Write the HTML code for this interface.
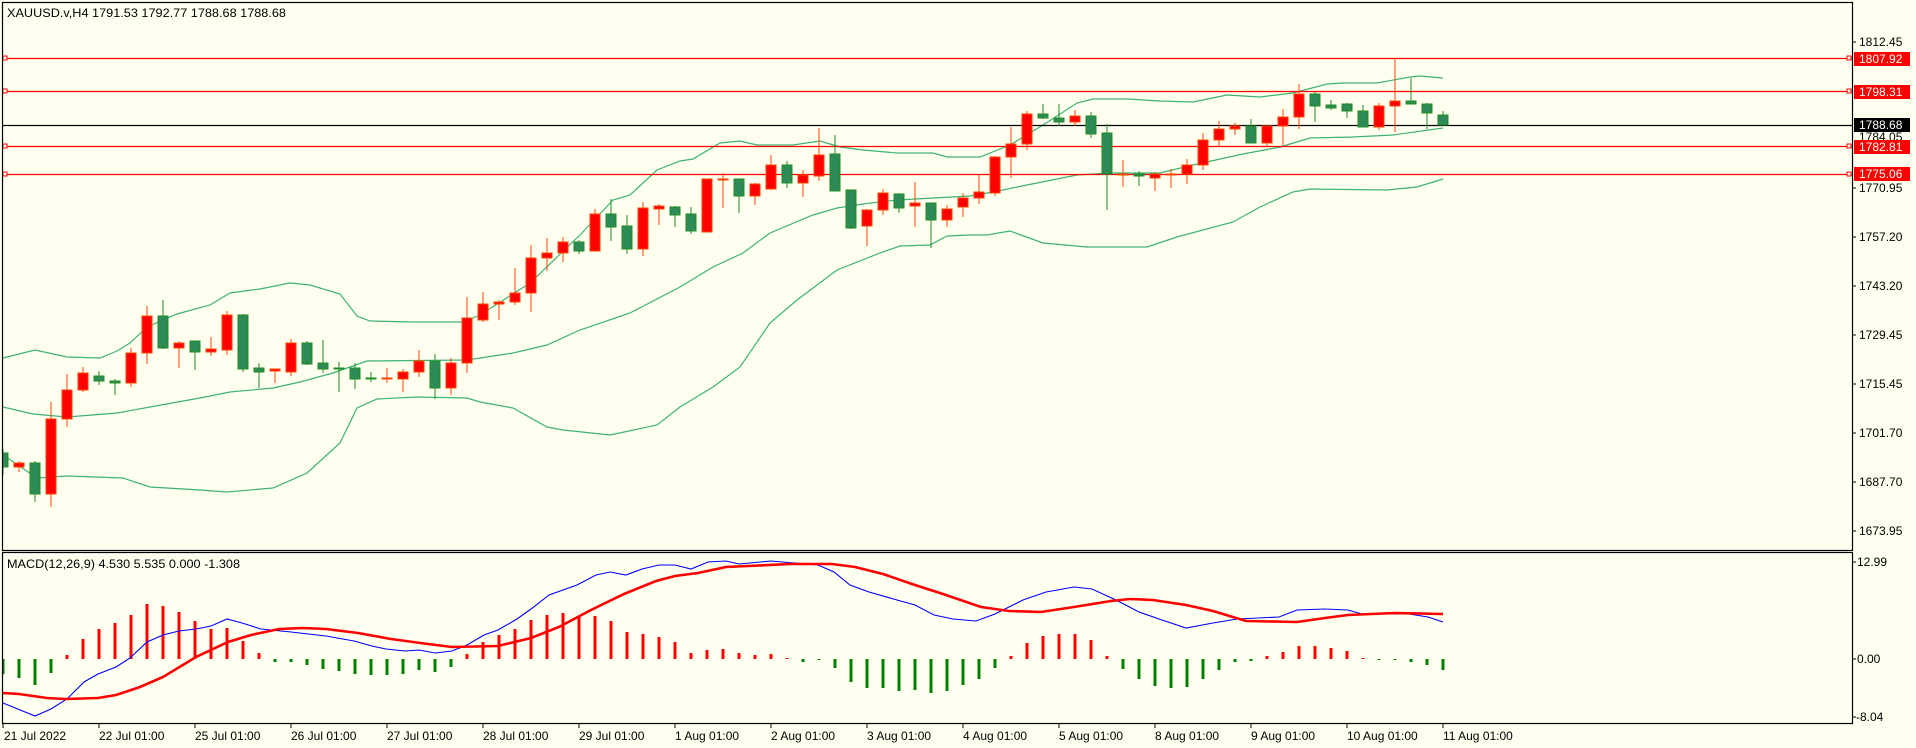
<!DOCTYPE html>
<html><head><meta charset="utf-8"><style>
html,body{margin:0;padding:0;background:#FFFFF0;}
svg{display:block;}
text{font-family:"Liberation Sans",sans-serif;font-size:12px;fill:#000;}
.r line,.r rect{stroke:#FF4500;} .r rect{fill:#FF0000;}
.g line,.g rect{stroke:#228B22;} .g rect{fill:#2E8B57;}
</style></head><body>
<svg width="1916" height="748" viewBox="0 0 1916 748" xmlns="http://www.w3.org/2000/svg">
<rect width="1916" height="748" fill="#FFFFF0"/>
<defs><clipPath id="cm"><rect x="2" y="2" width="1850" height="548"/></clipPath>
<clipPath id="cd"><rect x="2" y="552" width="1850" height="172"/></clipPath></defs>
<g clip-path="url(#cm)">
<g fill="none" stroke="#3CB371" stroke-width="1.2">
<polyline points="3,358 35,350 67,357 100,358 117,351 130,343 147,327 177,314 210,305 230,293 260,289 290,283 310,285 340,294 357,316 370,321 413,322 463,322 480,315 530,283 580,235 613,200 630,195 657,170 680,161 693,159 720,143 740,141 757,145 793,145 820,141 840,147 863,150 897,153 933,153 947,157 960,157 980,157 1010,145 1043,125 1077,103 1093,99 1127,99 1160,101 1193,102 1227,95 1260,97 1293,93 1327,84 1343,83 1377,83 1410,77 1420,76 1443,78"/>
<polyline points="3,407 33,414 67,417 117,413 150,407 200,398 230,392 273,388 300,382 333,373 367,361 467,360 480,358 513,353 547,345 580,330 630,313 680,287 713,267 743,253 770,233 813,215 837,208 863,204 897,200 970,196 993,192 1027,185 1077,175 1110,173 1160,173 1193,165 1243,154 1280,147 1310,138 1353,137 1393,135 1443,128"/>
<polyline points="3,455 37,478 67,476 123,478 150,487 200,490 227,492 273,488 307,473 340,443 357,408 377,399 417,397 467,398 480,402 513,408 547,427 563,430 610,435 657,425 680,407 713,387 740,367 770,323 797,300 837,270 880,253 900,246 930,245 947,236 970,235 987,235 1010,231 1043,243 1087,247 1147,247 1177,237 1233,222 1260,207 1293,192 1310,189 1387,190 1417,187 1443,179"/>
</g>
<g stroke="#FF0000" stroke-width="1.3">
<line x1="2" x2="1852" y1="58.5" y2="58.5"/><line x1="2" x2="1852" y1="91.5" y2="91.5"/>
<line x1="2" x2="1852" y1="146.5" y2="146.5"/><line x1="2" x2="1852" y1="174.5" y2="174.5"/>
</g>
<line x1="2" x2="1852" y1="125.5" y2="125.5" stroke="#000" stroke-width="1.3"/>
<g fill="#FFFFF0" stroke="#FF0000" stroke-width="1">
<rect x="3" y="56" width="4" height="4"/><rect x="3" y="89" width="4" height="4"/><rect x="3" y="144" width="4" height="4"/><rect x="3" y="172" width="4" height="4"/>
<rect x="1847" y="56" width="4" height="4"/><rect x="1847" y="89" width="4" height="4"/><rect x="1847" y="144" width="4" height="4"/><rect x="1847" y="172" width="4" height="4"/>
</g>
<g class="g"><line x1="3" x2="3" y1="449" y2="475"/><rect x="-2" y="453" width="10" height="14"/></g>
<g class="r"><line x1="19" x2="19" y1="461" y2="472"/><rect x="14" y="463" width="10" height="4"/></g>
<g class="g"><line x1="35" x2="35" y1="461" y2="502"/><rect x="30" y="463" width="10" height="31"/></g>
<g class="r"><line x1="51" x2="51" y1="402" y2="507"/><rect x="46" y="419" width="10" height="75"/></g>
<g class="r"><line x1="67" x2="67" y1="374" y2="427"/><rect x="62" y="390" width="10" height="29"/></g>
<g class="r"><line x1="83" x2="83" y1="367" y2="392"/><rect x="78" y="373" width="10" height="17"/></g>
<g class="g"><line x1="99" x2="99" y1="371" y2="385"/><rect x="94" y="376" width="10" height="5"/></g>
<g class="g"><line x1="115" x2="115" y1="379" y2="395"/><rect x="110" y="381" width="10" height="2"/></g>
<g class="r"><line x1="131" x2="131" y1="348" y2="387"/><rect x="126" y="353" width="10" height="30"/></g>
<g class="r"><line x1="147" x2="147" y1="306" y2="364"/><rect x="142" y="316" width="10" height="37"/></g>
<g class="g"><line x1="163" x2="163" y1="300" y2="349"/><rect x="158" y="316" width="10" height="32"/></g>
<g class="r"><line x1="179" x2="179" y1="341" y2="368"/><rect x="174" y="343" width="10" height="5"/></g>
<g class="g"><line x1="195" x2="195" y1="341" y2="370"/><rect x="190" y="341" width="10" height="11"/></g>
<g class="r"><line x1="211" x2="211" y1="337" y2="356"/><rect x="206" y="349" width="10" height="3"/></g>
<g class="r"><line x1="227" x2="227" y1="311" y2="355"/><rect x="222" y="315" width="10" height="35"/></g>
<g class="g"><line x1="243" x2="243" y1="314" y2="372"/><rect x="238" y="315" width="10" height="54"/></g>
<g class="g"><line x1="259" x2="259" y1="363" y2="388"/><rect x="254" y="368" width="10" height="4"/></g>
<g class="r"><line x1="275" x2="275" y1="369" y2="383"/><rect x="270" y="369" width="10" height="2"/></g>
<g class="r"><line x1="291" x2="291" y1="339" y2="376"/><rect x="286" y="343" width="10" height="29"/></g>
<g class="g"><line x1="307" x2="307" y1="341" y2="365"/><rect x="302" y="343" width="10" height="21"/></g>
<g class="g"><line x1="323" x2="323" y1="340" y2="373"/><rect x="318" y="363" width="10" height="6"/></g>
<g class="g"><line x1="339" x2="339" y1="362" y2="392"/><rect x="334" y="368" width="10" height="1"/></g>
<g class="g"><line x1="355" x2="355" y1="363" y2="389"/><rect x="350" y="368" width="10" height="11"/></g>
<g class="g"><line x1="371" x2="371" y1="372" y2="382"/><rect x="366" y="378" width="10" height="1"/></g>
<g class="r"><line x1="387" x2="387" y1="368" y2="383"/><rect x="382" y="378" width="10" height="1"/></g>
<g class="r"><line x1="403" x2="403" y1="369" y2="392"/><rect x="398" y="372" width="10" height="7"/></g>
<g class="r"><line x1="419" x2="419" y1="350" y2="377"/><rect x="414" y="361" width="10" height="11"/></g>
<g class="g"><line x1="435" x2="435" y1="354" y2="399"/><rect x="430" y="361" width="10" height="27"/></g>
<g class="r"><line x1="451" x2="451" y1="358" y2="395"/><rect x="446" y="363" width="10" height="25"/></g>
<g class="r"><line x1="467" x2="467" y1="297" y2="373"/><rect x="462" y="318" width="10" height="45"/></g>
<g class="r"><line x1="483" x2="483" y1="292" y2="322"/><rect x="478" y="304" width="10" height="16"/></g>
<g class="r"><line x1="499" x2="499" y1="300" y2="320"/><rect x="494" y="302" width="10" height="2"/></g>
<g class="r"><line x1="515" x2="515" y1="268" y2="305"/><rect x="510" y="293" width="10" height="9"/></g>
<g class="r"><line x1="531" x2="531" y1="245" y2="312"/><rect x="526" y="258" width="10" height="35"/></g>
<g class="r"><line x1="547" x2="547" y1="238" y2="271"/><rect x="542" y="253" width="10" height="5"/></g>
<g class="r"><line x1="563" x2="563" y1="237" y2="262"/><rect x="558" y="242" width="10" height="11"/></g>
<g class="g"><line x1="579" x2="579" y1="240" y2="254"/><rect x="574" y="242" width="10" height="9"/></g>
<g class="r"><line x1="595" x2="595" y1="209" y2="251"/><rect x="590" y="214" width="10" height="37"/></g>
<g class="g"><line x1="611" x2="611" y1="199" y2="241"/><rect x="606" y="214" width="10" height="13"/></g>
<g class="g"><line x1="627" x2="627" y1="215" y2="254"/><rect x="622" y="226" width="10" height="23"/></g>
<g class="r"><line x1="643" x2="643" y1="202" y2="256"/><rect x="638" y="208" width="10" height="41"/></g>
<g class="r"><line x1="659" x2="659" y1="204" y2="225"/><rect x="654" y="206" width="10" height="3"/></g>
<g class="g"><line x1="675" x2="675" y1="206" y2="227"/><rect x="670" y="207" width="10" height="8"/></g>
<g class="g"><line x1="691" x2="691" y1="207" y2="234"/><rect x="686" y="214" width="10" height="17"/></g>
<g class="r"><line x1="707" x2="707" y1="179" y2="232"/><rect x="702" y="179" width="10" height="53"/></g>
<g class="r"><line x1="723" x2="723" y1="173" y2="208"/><rect x="718" y="179" width="10" height="1"/></g>
<g class="g"><line x1="739" x2="739" y1="179" y2="213"/><rect x="734" y="179" width="10" height="17"/></g>
<g class="r"><line x1="755" x2="755" y1="183" y2="205"/><rect x="750" y="184" width="10" height="12"/></g>
<g class="r"><line x1="771" x2="771" y1="155" y2="190"/><rect x="766" y="165" width="10" height="24"/></g>
<g class="g"><line x1="787" x2="787" y1="161" y2="188"/><rect x="782" y="165" width="10" height="18"/></g>
<g class="r"><line x1="803" x2="803" y1="170" y2="197"/><rect x="798" y="175" width="10" height="8"/></g>
<g class="r"><line x1="819" x2="819" y1="128" y2="181"/><rect x="814" y="155" width="10" height="21"/></g>
<g class="g"><line x1="835" x2="835" y1="135" y2="191"/><rect x="830" y="154" width="10" height="37"/></g>
<g class="g"><line x1="851" x2="851" y1="190" y2="229"/><rect x="846" y="190" width="10" height="38"/></g>
<g class="r"><line x1="867" x2="867" y1="209" y2="246"/><rect x="862" y="210" width="10" height="16"/></g>
<g class="r"><line x1="883" x2="883" y1="189" y2="215"/><rect x="878" y="193" width="10" height="17"/></g>
<g class="g"><line x1="899" x2="899" y1="193" y2="213"/><rect x="894" y="194" width="10" height="14"/></g>
<g class="r"><line x1="915" x2="915" y1="182" y2="227"/><rect x="910" y="203" width="10" height="3"/></g>
<g class="g"><line x1="931" x2="931" y1="203" y2="248"/><rect x="926" y="203" width="10" height="17"/></g>
<g class="r"><line x1="947" x2="947" y1="205" y2="227"/><rect x="942" y="209" width="10" height="11"/></g>
<g class="r"><line x1="963" x2="963" y1="193" y2="217"/><rect x="958" y="198" width="10" height="9"/></g>
<g class="r"><line x1="979" x2="979" y1="174" y2="204"/><rect x="974" y="192" width="10" height="6"/></g>
<g class="r"><line x1="995" x2="995" y1="156" y2="196"/><rect x="990" y="157" width="10" height="36"/></g>
<g class="r"><line x1="1011" x2="1011" y1="127" y2="178"/><rect x="1006" y="144" width="10" height="13"/></g>
<g class="r"><line x1="1027" x2="1027" y1="111" y2="150"/><rect x="1022" y="114" width="10" height="30"/></g>
<g class="g"><line x1="1043" x2="1043" y1="104" y2="119"/><rect x="1038" y="114" width="10" height="4"/></g>
<g class="g"><line x1="1059" x2="1059" y1="104" y2="126"/><rect x="1054" y="118" width="10" height="4"/></g>
<g class="r"><line x1="1075" x2="1075" y1="110" y2="126"/><rect x="1070" y="116" width="10" height="6"/></g>
<g class="g"><line x1="1091" x2="1091" y1="112" y2="138"/><rect x="1086" y="116" width="10" height="18"/></g>
<g class="g"><line x1="1107" x2="1107" y1="124" y2="210"/><rect x="1102" y="133" width="10" height="41"/></g>
<g class="r"><line x1="1123" x2="1123" y1="160" y2="187"/><rect x="1118" y="174" width="10" height="1"/></g>
<g class="g"><line x1="1139" x2="1139" y1="171" y2="186"/><rect x="1134" y="174" width="10" height="2"/></g>
<g class="r"><line x1="1155" x2="1155" y1="172" y2="191"/><rect x="1150" y="174" width="10" height="4"/></g>
<g class="r"><line x1="1171" x2="1171" y1="169" y2="188"/><rect x="1166" y="174" width="10" height="1"/></g>
<g class="r"><line x1="1187" x2="1187" y1="159" y2="184"/><rect x="1182" y="165" width="10" height="9"/></g>
<g class="r"><line x1="1203" x2="1203" y1="133" y2="170"/><rect x="1198" y="140" width="10" height="25"/></g>
<g class="r"><line x1="1219" x2="1219" y1="121" y2="146"/><rect x="1214" y="129" width="10" height="11"/></g>
<g class="r"><line x1="1235" x2="1235" y1="123" y2="135"/><rect x="1230" y="126" width="10" height="3"/></g>
<g class="g"><line x1="1251" x2="1251" y1="119" y2="143"/><rect x="1246" y="126" width="10" height="17"/></g>
<g class="r"><line x1="1267" x2="1267" y1="126" y2="146"/><rect x="1262" y="126" width="10" height="17"/></g>
<g class="r"><line x1="1283" x2="1283" y1="109" y2="145"/><rect x="1278" y="117" width="10" height="9"/></g>
<g class="r"><line x1="1299" x2="1299" y1="84" y2="129"/><rect x="1294" y="94" width="10" height="23"/></g>
<g class="g"><line x1="1315" x2="1315" y1="92" y2="122"/><rect x="1310" y="94" width="10" height="12"/></g>
<g class="g"><line x1="1331" x2="1331" y1="100" y2="110"/><rect x="1326" y="105" width="10" height="3"/></g>
<g class="g"><line x1="1347" x2="1347" y1="103" y2="118"/><rect x="1342" y="104" width="10" height="7"/></g>
<g class="g"><line x1="1363" x2="1363" y1="105" y2="127"/><rect x="1358" y="111" width="10" height="16"/></g>
<g class="r"><line x1="1379" x2="1379" y1="103" y2="130"/><rect x="1374" y="106" width="10" height="21"/></g>
<g class="r"><line x1="1395" x2="1395" y1="58" y2="132"/><rect x="1390" y="101" width="10" height="5"/></g>
<g class="g"><line x1="1411" x2="1411" y1="78" y2="104"/><rect x="1406" y="101" width="10" height="3"/></g>
<g class="g"><line x1="1427" x2="1427" y1="103" y2="129"/><rect x="1422" y="104" width="10" height="9"/></g>
<g class="g"><line x1="1443" x2="1443" y1="111" y2="125"/><rect x="1438" y="115" width="10" height="10"/></g>
</g>
<rect x="2.5" y="2.5" width="1850" height="548" fill="none" stroke="#000" stroke-width="1.2"/>
<text x="7" y="17" textLength="279" lengthAdjust="spacingAndGlyphs">XAUUSD.v,H4  1791.53 1792.77 1788.68 1788.68</text>
<g stroke="#000"><line x1="1852" x2="1856" y1="42" y2="42"/><line x1="1852" x2="1856" y1="188" y2="188"/><line x1="1852" x2="1856" y1="237" y2="237"/><line x1="1852" x2="1856" y1="286" y2="286"/><line x1="1852" x2="1856" y1="335" y2="335"/><line x1="1852" x2="1856" y1="384" y2="384"/><line x1="1852" x2="1856" y1="433" y2="433"/><line x1="1852" x2="1856" y1="482" y2="482"/><line x1="1852" x2="1856" y1="531" y2="531"/></g>
<text x="1859" y="46">1812.45</text>
<text x="1859" y="141">1784.05</text>
<text x="1859" y="192">1770.95</text>
<text x="1859" y="241">1757.20</text>
<text x="1859" y="290">1743.20</text>
<text x="1859" y="339">1729.45</text>
<text x="1859" y="388">1715.45</text>
<text x="1859" y="437">1701.70</text>
<text x="1859" y="486">1687.70</text>
<text x="1859" y="535">1673.95</text>
<rect x="1854" y="52" width="56" height="14" fill="#FF0000"/><text x="1859" y="63" style="fill:#fff">1807.92</text>
<rect x="1854" y="85" width="56" height="14" fill="#FF0000"/><text x="1859" y="96" style="fill:#fff">1798.31</text>
<rect x="1854" y="118" width="56" height="14" fill="#000"/><text x="1859" y="129" style="fill:#fff">1788.68</text>
<rect x="1854" y="140" width="56" height="14" fill="#FF0000"/><text x="1859" y="151" style="fill:#fff">1782.81</text>
<rect x="1854" y="167" width="56" height="14" fill="#FF0000"/><text x="1859" y="178" style="fill:#fff">1775.06</text>

<g clip-path="url(#cd)">
<g stroke="#008000" stroke-width="3">
<line x1="3" x2="3" y1="659" y2="674"/><line x1="19" x2="19" y1="659" y2="678"/><line x1="35" x2="35" y1="659" y2="685"/><line x1="51" x2="51" y1="659" y2="673"/>
<line x1="275" x2="275" y1="659" y2="662"/><line x1="291" x2="291" y1="659" y2="662"/><line x1="307" x2="307" y1="659" y2="665"/><line x1="323" x2="323" y1="659" y2="669"/><line x1="339" x2="339" y1="659" y2="671"/><line x1="355" x2="355" y1="659" y2="674"/><line x1="371" x2="371" y1="659" y2="675"/><line x1="387" x2="387" y1="659" y2="675"/><line x1="403" x2="403" y1="659" y2="674"/><line x1="419" x2="419" y1="659" y2="670"/><line x1="435" x2="435" y1="659" y2="672"/><line x1="451" x2="451" y1="659" y2="667"/>
<line x1="803" x2="803" y1="659" y2="662"/><line x1="819" x2="819" y1="659" y2="660"/><line x1="835" x2="835" y1="659" y2="668"/><line x1="851" x2="851" y1="659" y2="682"/><line x1="867" x2="867" y1="659" y2="688"/><line x1="883" x2="883" y1="659" y2="688"/><line x1="899" x2="899" y1="659" y2="691"/><line x1="915" x2="915" y1="659" y2="690"/><line x1="931" x2="931" y1="659" y2="693"/><line x1="947" x2="947" y1="659" y2="691"/><line x1="963" x2="963" y1="659" y2="685"/><line x1="979" x2="979" y1="659" y2="679"/><line x1="995" x2="995" y1="659" y2="668"/>
<line x1="1123" x2="1123" y1="659" y2="669"/><line x1="1139" x2="1139" y1="659" y2="679"/><line x1="1155" x2="1155" y1="659" y2="686"/><line x1="1171" x2="1171" y1="659" y2="688"/><line x1="1187" x2="1187" y1="659" y2="687"/><line x1="1203" x2="1203" y1="659" y2="679"/><line x1="1219" x2="1219" y1="659" y2="670"/><line x1="1235" x2="1235" y1="659" y2="662"/><line x1="1251" x2="1251" y1="659" y2="661"/>
<line x1="1379" x2="1379" y1="659" y2="660"/><line x1="1395" x2="1395" y1="659" y2="660"/><line x1="1411" x2="1411" y1="659" y2="662"/><line x1="1427" x2="1427" y1="659" y2="665"/><line x1="1443" x2="1443" y1="659" y2="670"/>
</g>
<g stroke="#FF0000" stroke-width="3">
<line x1="67" x2="67" y1="659" y2="655"/><line x1="83" x2="83" y1="659" y2="639"/><line x1="99" x2="99" y1="659" y2="629"/><line x1="115" x2="115" y1="659" y2="623"/><line x1="131" x2="131" y1="659" y2="615"/><line x1="147" x2="147" y1="659" y2="604"/><line x1="163" x2="163" y1="659" y2="606"/><line x1="179" x2="179" y1="659" y2="612"/><line x1="195" x2="195" y1="659" y2="621"/><line x1="211" x2="211" y1="659" y2="629"/><line x1="227" x2="227" y1="659" y2="628"/><line x1="243" x2="243" y1="659" y2="641"/><line x1="259" x2="259" y1="659" y2="653"/>
<line x1="467" x2="467" y1="659" y2="654"/><line x1="483" x2="483" y1="659" y2="642"/><line x1="499" x2="499" y1="659" y2="635"/><line x1="515" x2="515" y1="659" y2="629"/><line x1="531" x2="531" y1="659" y2="620"/><line x1="547" x2="547" y1="659" y2="615"/><line x1="563" x2="563" y1="659" y2="613"/><line x1="579" x2="579" y1="659" y2="617"/><line x1="595" x2="595" y1="659" y2="616"/><line x1="611" x2="611" y1="659" y2="621"/><line x1="627" x2="627" y1="659" y2="632"/><line x1="643" x2="643" y1="659" y2="634"/><line x1="659" x2="659" y1="659" y2="637"/><line x1="675" x2="675" y1="659" y2="642"/><line x1="691" x2="691" y1="659" y2="653"/><line x1="707" x2="707" y1="659" y2="650"/><line x1="723" x2="723" y1="659" y2="649"/><line x1="739" x2="739" y1="659" y2="653"/><line x1="755" x2="755" y1="659" y2="655"/><line x1="771" x2="771" y1="659" y2="654"/><line x1="787" x2="787" y1="659" y2="658"/>
<line x1="1011" x2="1011" y1="659" y2="656"/><line x1="1027" x2="1027" y1="659" y2="643"/><line x1="1043" x2="1043" y1="659" y2="636"/><line x1="1059" x2="1059" y1="659" y2="634"/><line x1="1075" x2="1075" y1="659" y2="634"/><line x1="1091" x2="1091" y1="659" y2="640"/><line x1="1107" x2="1107" y1="659" y2="656"/>
<line x1="1267" x2="1267" y1="659" y2="656"/><line x1="1283" x2="1283" y1="659" y2="652"/><line x1="1299" x2="1299" y1="659" y2="646"/><line x1="1315" x2="1315" y1="659" y2="646"/><line x1="1331" x2="1331" y1="659" y2="648"/><line x1="1347" x2="1347" y1="659" y2="651"/><line x1="1363" x2="1363" y1="659" y2="658"/>
</g>
<polyline fill="none" stroke="#0000FF" stroke-width="1.1" points="3,703 35,716 51,709 67,699 84,682 98,674 116,667 130,658 147,642 163,635 179,631 196,629 211,626 227,619 242,623 261,629 291,632 326,636 354,641 372,646 386,649 405,651 419,650 435,653 452,651 467,645 484,635 498,630 517,619 531,609 549,595 577,585 596,575 610,572 626,575 642,569 659,565 675,565 691,569 708,562 726,561 739,564 771,561 818,565 834,572 850,585 869,592 897,600 915,605 934,615 953,619 976,621 995,614 1023,600 1046,592 1074,587 1092,589 1116,600 1139,612 1162,620 1186,628 1213,623 1237,619 1279,617 1297,610 1325,609 1348,610 1362,614 1409,614 1428,617 1443,622"/>
<polyline fill="none" stroke="#FF0000" stroke-width="2.6" points="3,693 19,694 47,698 65,699 98,698 116,695 140,687 163,677 196,657 228,642 251,635 279,629 303,628 326,629 358,633 391,639 428,644 452,647 498,646 531,638 559,627 591,610 624,594 656,581 675,576 698,573 726,567 748,566 790,564 832,564 855,567 883,574 915,585 943,594 981,607 1009,611 1041,612 1074,607 1111,601 1130,599 1153,600 1186,605 1213,611 1246,621 1297,622 1325,618 1348,615 1395,613 1443,614"/>
</g>
<rect x="2.5" y="552.5" width="1850" height="171" fill="none" stroke="#000" stroke-width="1.2"/>
<text x="7" y="568" textLength="233" lengthAdjust="spacingAndGlyphs">MACD(12,26,9) 4.530 5.535 0.000 -1.308</text>
<g stroke="#000"><line x1="1852" x2="1856" y1="562" y2="562"/><line x1="1852" x2="1856" y1="659" y2="659"/><line x1="1852" x2="1856" y1="717" y2="717"/></g>
<text x="1857" y="566">12.99</text>
<text x="1857" y="663">0.00</text>
<text x="1856" y="721">-8.04</text>
<g stroke="#000">
<line x1="3" x2="3" y1="724" y2="728"/><line x1="99" x2="99" y1="724" y2="728"/><line x1="195" x2="195" y1="724" y2="728"/><line x1="291" x2="291" y1="724" y2="728"/><line x1="387" x2="387" y1="724" y2="728"/><line x1="483" x2="483" y1="724" y2="728"/><line x1="579" x2="579" y1="724" y2="728"/><line x1="675" x2="675" y1="724" y2="728"/><line x1="771" x2="771" y1="724" y2="728"/><line x1="867" x2="867" y1="724" y2="728"/><line x1="963" x2="963" y1="724" y2="728"/><line x1="1059" x2="1059" y1="724" y2="728"/><line x1="1155" x2="1155" y1="724" y2="728"/><line x1="1251" x2="1251" y1="724" y2="728"/><line x1="1347" x2="1347" y1="724" y2="728"/><line x1="1443" x2="1443" y1="724" y2="728"/>
</g>
<text x="4" y="740">21 Jul 2022</text>
<text x="99" y="740">22 Jul 01:00</text>
<text x="195" y="740">25 Jul 01:00</text>
<text x="291" y="740">26 Jul 01:00</text>
<text x="387" y="740">27 Jul 01:00</text>
<text x="483" y="740">28 Jul 01:00</text>
<text x="579" y="740">29 Jul 01:00</text>
<text x="675" y="740">1 Aug 01:00</text>
<text x="771" y="740">2 Aug 01:00</text>
<text x="867" y="740">3 Aug 01:00</text>
<text x="963" y="740">4 Aug 01:00</text>
<text x="1059" y="740">5 Aug 01:00</text>
<text x="1155" y="740">8 Aug 01:00</text>
<text x="1251" y="740">9 Aug 01:00</text>
<text x="1347" y="740">10 Aug 01:00</text>
<text x="1443" y="740">11 Aug 01:00</text>
</svg>
</body></html>
